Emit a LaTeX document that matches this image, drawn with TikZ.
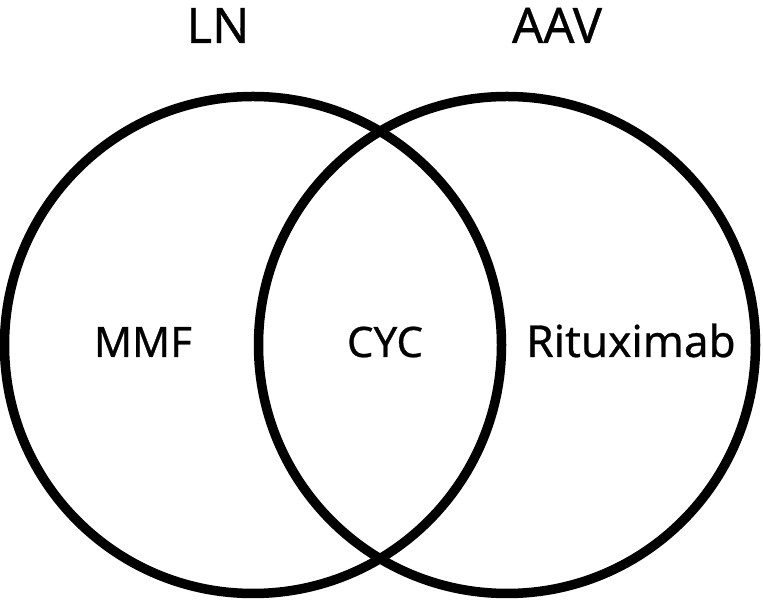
\documentclass[tikz,border=0pt]{standalone}
\usepackage{fontspec}
\setmainfont{Noto Sans}
\newfontfamily\labelfont[FakeBold=0.6]{Noto Sans}
\usetikzlibrary{positioning}

\begin{document}
\begin{tikzpicture}[x=1pt,y=1pt, set/.style={circle,draw,line width=9.5pt,
  minimum size=497pt,inner sep=0pt,outer sep=0pt},
  head/.style={anchor=base,inner sep=0pt,font=\labelfont\fontsize{49}{58}\selectfont},
  lbl/.style={anchor=base,inner sep=0pt,font=\labelfont\fontsize{42}{50}\selectfont}]
\useasboundingbox (0,0) rectangle (763,602);
\node[set] (ln) at (253,257) {};
\node[set] (aav) at (507,257) {};
\node[head] (lnlabel) at (218,559) {LN};
\node[head] (aavlabel) at (557,559) {AAV};
\node[lbl] (mmf) at (143,245) {MMF};
\node[lbl] (cyc) at (385,245) {CYC};
\node[lbl,font=\labelfont\fontsize{44}{52}\selectfont] (ritux) at (631,245) {Rituximab};
\end{tikzpicture}
\end{document}
